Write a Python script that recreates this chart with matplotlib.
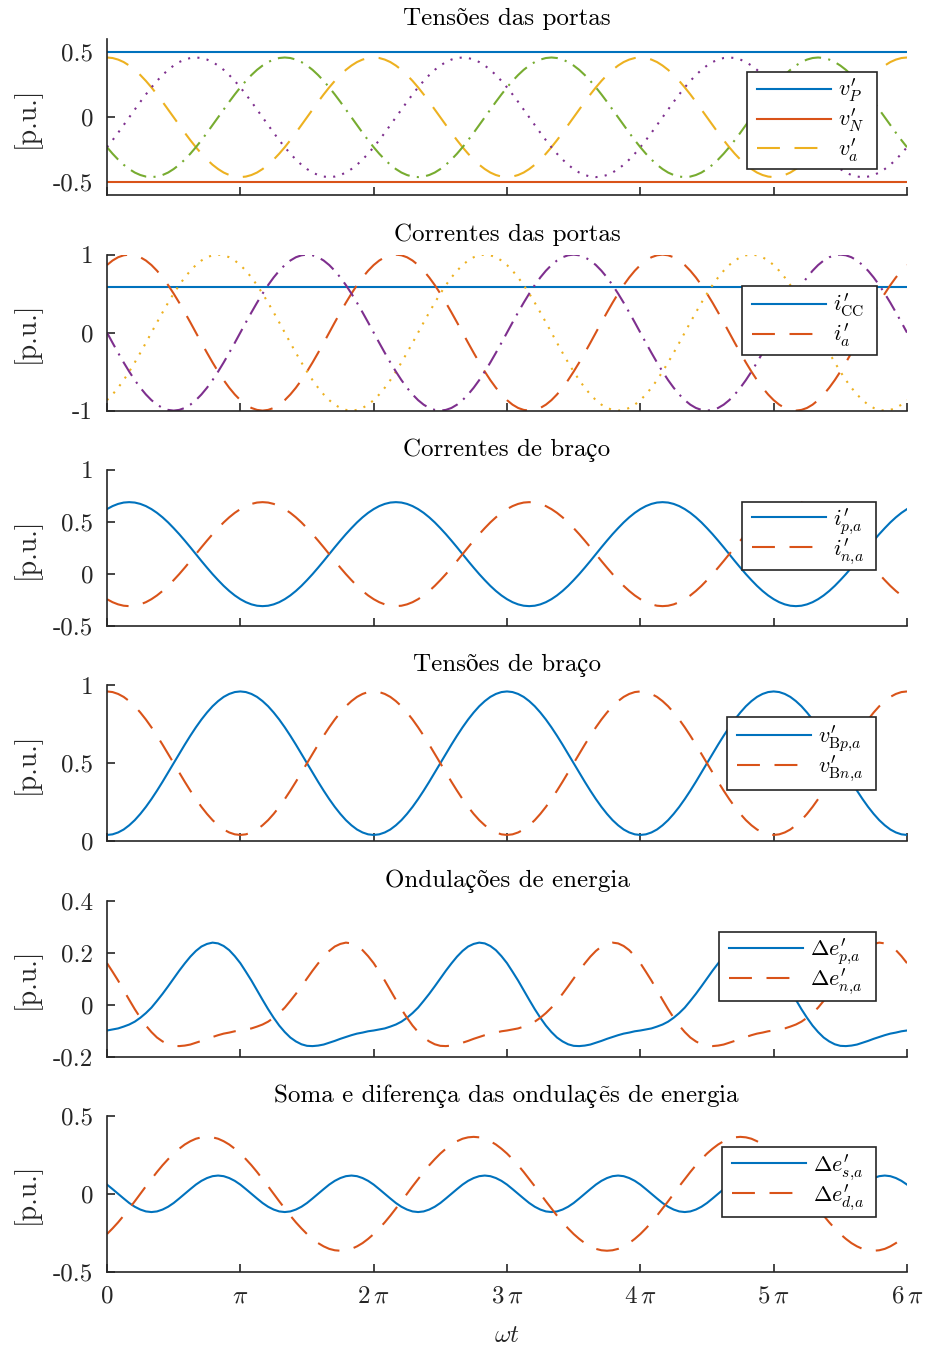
import numpy as np
import matplotlib
matplotlib.use("Agg")
import matplotlib.pyplot as plt
from matplotlib.patches import Rectangle

plt.rcParams['font.family'] = ['cmr10', 'STIXGeneral', 'DejaVu Serif']
plt.rcParams['mathtext.fontset'] = 'cm'
plt.rcParams['axes.unicode_minus'] = False

# ---------------- data (one period, samples every pi/24) --------------
n_periods = 3
samples_per_period = 48

# Tensões das portas
v_P = 0.5
v_N = -0.5
v_a = [0.46, 0.456, 0.444, 0.425, 0.398, 0.365, 0.325, 0.28, 0.23, 0.176, 0.119, 0.06,
       0, -0.06, -0.119, -0.176, -0.23, -0.28, -0.325, -0.365, -0.398, -0.425, -0.444, -0.456,
       -0.46, -0.456, -0.444, -0.425, -0.398, -0.365, -0.325, -0.28, -0.23, -0.176, -0.119, -0.06,
       0, 0.06, 0.119, 0.176, 0.23, 0.28, 0.325, 0.365, 0.398, 0.425, 0.444, 0.456]
v_b = [-0.23, -0.176, -0.119, -0.06, 0, 0.06, 0.119, 0.176, 0.23, 0.28, 0.325, 0.365,
       0.398, 0.425, 0.444, 0.456, 0.46, 0.456, 0.444, 0.425, 0.398, 0.365, 0.325, 0.28,
       0.23, 0.176, 0.119, 0.06, 0, -0.06, -0.119, -0.176, -0.23, -0.28, -0.325, -0.365,
       -0.398, -0.425, -0.444, -0.456, -0.46, -0.456, -0.444, -0.425, -0.398, -0.365, -0.325, -0.28]
v_c = [-0.23, -0.28, -0.325, -0.365, -0.398, -0.425, -0.444, -0.456, -0.46, -0.456, -0.444, -0.425,
       -0.398, -0.365, -0.325, -0.28, -0.23, -0.176, -0.119, -0.06, 0, 0.06, 0.119, 0.176,
       0.23, 0.28, 0.325, 0.365, 0.398, 0.425, 0.444, 0.456, 0.46, 0.456, 0.444, 0.425,
       0.398, 0.365, 0.325, 0.28, 0.23, 0.176, 0.119, 0.06, 0, -0.06, -0.119, -0.176]

# Correntes das portas
i_CC = 0.58
i_a = [0.866, 0.924, 0.966, 0.991, 1, 0.991, 0.966, 0.924, 0.866, 0.793, 0.707, 0.609,
       0.5, 0.383, 0.259, 0.131, 0, -0.131, -0.259, -0.383, -0.5, -0.609, -0.707, -0.793,
       -0.866, -0.924, -0.966, -0.991, -1, -0.991, -0.966, -0.924, -0.866, -0.793, -0.707, -0.609,
       -0.5, -0.383, -0.259, -0.131, 0, 0.131, 0.259, 0.383, 0.5, 0.609, 0.707, 0.793]
i_b = [-0.866, -0.793, -0.707, -0.609, -0.5, -0.383, -0.259, -0.131, 0, 0.131, 0.259, 0.383,
       0.5, 0.609, 0.707, 0.793, 0.866, 0.924, 0.966, 0.991, 1, 0.991, 0.966, 0.924,
       0.866, 0.793, 0.707, 0.609, 0.5, 0.383, 0.259, 0.131, 0, -0.131, -0.259, -0.383,
       -0.5, -0.609, -0.707, -0.793, -0.866, -0.924, -0.966, -0.991, -1, -0.991, -0.966, -0.924]
i_c = [0, -0.131, -0.259, -0.383, -0.5, -0.609, -0.707, -0.793, -0.866, -0.924, -0.966, -0.991,
       -1, -0.991, -0.966, -0.924, -0.866, -0.793, -0.707, -0.609, -0.5, -0.383, -0.259, -0.131,
       0, 0.131, 0.259, 0.383, 0.5, 0.609, 0.707, 0.793, 0.866, 0.924, 0.966, 0.991,
       1, 0.991, 0.966, 0.924, 0.866, 0.793, 0.707, 0.609, 0.5, 0.383, 0.259, 0.131]

# Correntes de braço
i_pa = [0.623, 0.652, 0.673, 0.686, 0.69, 0.686, 0.673, 0.652, 0.623, 0.587, 0.544, 0.495,
        0.44, 0.382, 0.32, 0.256, 0.19, 0.124, 0.06, -0.002, -0.06, -0.115, -0.164, -0.207,
        -0.243, -0.272, -0.293, -0.306, -0.31, -0.306, -0.293, -0.272, -0.243, -0.207, -0.164, -0.115,
        -0.06, -0.002, 0.06, 0.124, 0.19, 0.256, 0.32, 0.382, 0.44, 0.495, 0.544, 0.587]
i_na = [-0.243, -0.272, -0.293, -0.306, -0.31, -0.306, -0.293, -0.272, -0.243, -0.207, -0.164, -0.115,
        -0.06, -0.002, 0.06, 0.124, 0.19, 0.256, 0.32, 0.382, 0.44, 0.495, 0.544, 0.587,
        0.623, 0.652, 0.673, 0.686, 0.69, 0.686, 0.673, 0.652, 0.623, 0.587, 0.544, 0.495,
        0.44, 0.382, 0.32, 0.256, 0.19, 0.124, 0.06, -0.002, -0.06, -0.115, -0.164, -0.207]

# Tensões de braço
v_Bpa = [0.04, 0.044, 0.056, 0.075, 0.102, 0.135, 0.175, 0.22, 0.27, 0.324, 0.381, 0.44,
         0.5, 0.56, 0.619, 0.676, 0.73, 0.78, 0.825, 0.865, 0.898, 0.925, 0.944, 0.956,
         0.96, 0.956, 0.944, 0.925, 0.898, 0.865, 0.825, 0.78, 0.73, 0.676, 0.619, 0.56,
         0.5, 0.44, 0.381, 0.324, 0.27, 0.22, 0.175, 0.135, 0.102, 0.075, 0.056, 0.044]
v_Bna = [0.96, 0.956, 0.944, 0.925, 0.898, 0.865, 0.825, 0.78, 0.73, 0.676, 0.619, 0.56,
         0.5, 0.44, 0.381, 0.324, 0.27, 0.22, 0.175, 0.135, 0.102, 0.075, 0.056, 0.044,
         0.04, 0.044, 0.056, 0.075, 0.102, 0.135, 0.175, 0.22, 0.27, 0.324, 0.381, 0.44,
         0.5, 0.56, 0.619, 0.676, 0.73, 0.78, 0.825, 0.865, 0.898, 0.925, 0.944, 0.956]

# Ondulações de energia
de_pa = [-0.100, -0.096, -0.092, -0.085, -0.077, -0.066, -0.051, -0.033, -0.012, 0.014, 0.041, 0.070,
         0.100, 0.130, 0.158, 0.184, 0.206, 0.223, 0.233, 0.238, 0.235, 0.225, 0.209, 0.186,
         0.159, 0.126, 0.092, 0.055, 0.018, -0.018, -0.051, -0.081, -0.106, -0.127, -0.142, -0.153,
         -0.159, -0.160, -0.158, -0.154, -0.147, -0.140, -0.132, -0.125, -0.118, -0.112, -0.108, -0.103]
de_na = [0.159, 0.126, 0.092, 0.055, 0.018, -0.018, -0.051, -0.081, -0.106, -0.127, -0.142, -0.153,
         -0.159, -0.160, -0.158, -0.154, -0.147, -0.140, -0.132, -0.125, -0.118, -0.112, -0.108, -0.103,
         -0.100, -0.096, -0.092, -0.085, -0.077, -0.066, -0.051, -0.033, -0.012, 0.014, 0.041, 0.070,
         0.100, 0.130, 0.158, 0.184, 0.206, 0.223, 0.233, 0.238, 0.235, 0.225, 0.209, 0.186]

# Soma e diferença
de_sa = [0.059, 0.030, 0, -0.030, -0.059, -0.083, -0.101, -0.113, -0.117, -0.113, -0.101, -0.083,
         -0.059, -0.030, 0, 0.030, 0.059, 0.083, 0.101, 0.113, 0.117, 0.113, 0.101, 0.083,
         0.059, 0.030, 0, -0.030, -0.059, -0.083, -0.101, -0.113, -0.117, -0.113, -0.101, -0.083,
         -0.059, -0.030, 0, 0.030, 0.059, 0.083, 0.101, 0.113, 0.117, 0.113, 0.101, 0.083]
de_da = [-0.258, -0.222, -0.183, -0.14, -0.094, -0.048, 0, 0.048, 0.094, 0.14, 0.183, 0.222,
         0.258, 0.289, 0.316, 0.337, 0.353, 0.362, 0.365, 0.362, 0.353, 0.337, 0.316, 0.289,
         0.258, 0.222, 0.183, 0.14, 0.094, 0.048, 0, -0.048, -0.094, -0.14, -0.183, -0.222,
         -0.258, -0.289, -0.316, -0.337, -0.353, -0.362, -0.365, -0.362, -0.353, -0.337, -0.316, -0.289]

# titles; the last is split in two pieces so that "ẽ" can be drawn as a math accent
titles = [["Tensões das portas"], ["Correntes das portas"], ["Correntes de braço"],
          ["Tensões de braço"], ["Ondulações de energia"],
          ["Soma e diferença das ondulaç", r"$\tilde{\mathrm{e}}$s de energia"]]
ylims = [(-0.6, 0.6), (-1, 1), (-0.5, 1), (0, 1), (-0.2, 0.4), (-0.5, 0.5)]
yticks = [[-0.5, 0, 0.5], [-1, 0, 1], [-0.5, 0, 0.5, 1], [0, 0.5, 1],
          [-0.2, 0, 0.2, 0.4], [-0.5, 0, 0.5]]
yticklabels = [["-0.5", "0", "0.5"], ["-1", "0", "1"], ["-0.5", "0", "0.5", "1"],
               ["0", "0.5", "1"], ["-0.2", "0", "0.2", "0.4"], ["-0.5", "0", "0.5"]]
xtick_labels = [r'$0$', r'$\pi$', r'$2\,\pi$', r'$3\,\pi$', r'$4\,\pi$', r'$5\,\pi$', r'$6\,\pi$']

# ---------------- helpers ----------------
wt = np.arange(n_periods * samples_per_period + 1) * (2 * np.pi / samples_per_period)


def series(vals):
    v = np.asarray(vals, dtype=float)
    return np.concatenate([np.tile(v, n_periods), v[:1]])


def const(level):
    return np.full_like(wt, level)


BLUE = '#0072BD'
ORANGE = '#D95319'
YELLOW = '#EDB120'
PURPLE = '#7E2F8E'
GREEN = '#77AC30'
AX = '#262626'
LW = 1.5
DASH = (11, 7)
DOT = (1, 3.5)
DASHDOT = (8, 3.5, 1, 3.5)

W, H = 928, 1348
fig = plt.figure(figsize=(W / 100, H / 100), dpi=100)
renderer = fig.canvas.get_renderer()

ax_left, ax_w, ax_h = 107, 800, 156
tops = [39.3 + 215.3 * i for i in range(6)]
# legend boxes in pixels: left, top, right, bottom
leg_boxes = [(747, 71.7, 876.7, 169), (741.7, 286, 876.7, 355), (742, 502, 876, 570),
             (727.3, 716.7, 876, 790), (719.3, 932.3, 876, 1000.7), (722, 1147, 876, 1217)]
leg_spacing = [0.11, 0.12, 0.0, 0.0, 0.0, 0.0]

axes = []
for i in range(6):
    ax = fig.add_axes([ax_left / W, 1 - (tops[i] + ax_h) / H, ax_w / W, ax_h / H])
    axes.append(ax)

# Panel 1
ax = axes[0]
l1, = ax.plot(wt, const(v_P), color=BLUE, lw=LW)
l2, = ax.plot(wt, const(v_N), color=ORANGE, lw=LW)
l3, = ax.plot(wt, series(v_a), color=YELLOW, lw=LW, dashes=DASH)
ax.plot(wt, series(v_b), color=PURPLE, lw=LW, dashes=DOT)
ax.plot(wt, series(v_c), color=GREEN, lw=LW, dashes=DASHDOT)
leg_items = [([l1, l2, l3], [r"$v^{\prime}_{P}$", r"$v^{\prime}_{N}$", r"$v^{\prime}_{a}$"])]

# Panel 2
ax = axes[1]
l1, = ax.plot(wt, const(i_CC), color=BLUE, lw=LW)
l2, = ax.plot(wt, series(i_a), color=ORANGE, lw=LW, dashes=DASH)
ax.plot(wt, series(i_b), color=YELLOW, lw=LW, dashes=DOT)
ax.plot(wt, series(i_c), color=PURPLE, lw=LW, dashes=DASHDOT)
leg_items.append(([l1, l2], [r"$i^{\prime}_{\mathrm{CC}}$", r"$i^{\prime}_{a}$"]))

# Panel 3
ax = axes[2]
l1, = ax.plot(wt, series(i_pa), color=BLUE, lw=LW)
l2, = ax.plot(wt, series(i_na), color=ORANGE, lw=LW, dashes=DASH)
leg_items.append(([l1, l2], [r"$i^{\prime}_{p{,}a}$", r"$i^{\prime}_{n{,}a}$"]))

# Panel 4
ax = axes[3]
l1, = ax.plot(wt, series(v_Bpa), color=BLUE, lw=LW)
l2, = ax.plot(wt, series(v_Bna), color=ORANGE, lw=LW, dashes=DASH)
leg_items.append(([l1, l2], [r"$v^{\prime}_{\mathrm{B}p{,}a}$", r"$v^{\prime}_{\mathrm{B}n{,}a}$"]))

# Panel 5
ax = axes[4]
l1, = ax.plot(wt, series(de_pa), color=BLUE, lw=LW)
l2, = ax.plot(wt, series(de_na), color=ORANGE, lw=LW, dashes=DASH)
leg_items.append(([l1, l2], [r"$\Delta e^{\prime}_{p{,}a}$", r"$\Delta e^{\prime}_{n{,}a}$"]))

# Panel 6
ax = axes[5]
l1, = ax.plot(wt, series(de_sa), color=BLUE, lw=LW)
l2, = ax.plot(wt, series(de_da), color=ORANGE, lw=LW, dashes=DASH)
leg_items.append(([l1, l2], [r"$\Delta e^{\prime}_{s{,}a}$", r"$\Delta e^{\prime}_{d{,}a}$"]))

FS = 18
LFS = 16
TITLE_PAD_PX = 10 * 100 / 72
for i, ax in enumerate(axes):
    ax.set_xlim(0, 6 * np.pi)
    ax.set_ylim(*ylims[i])
    ax.set_yticks(yticks[i])
    ax.set_yticklabels(yticklabels[i])
    ax.set_xticks(np.arange(7) * np.pi)
    if i == 5:
        ax.set_xticklabels(xtick_labels)
        ax.set_xlabel(r'$\omega t$', fontsize=FS, color=AX, labelpad=12)
    else:
        ax.set_xticklabels([])
    for s in ['top', 'right']:
        ax.spines[s].set_visible(False)
    for s in ['left', 'bottom']:
        ax.spines[s].set_color(AX)
        ax.spines[s].set_linewidth(1.2)
    ax.tick_params(direction='in', length=6, width=1.2, colors=AX, labelsize=FS, pad=10)

    # title (pieces laid side by side on a common baseline, centred over the axes)
    pieces = titles[i]
    ybase = 1 - (tops[i] - TITLE_PAD_PX) / H
    txts = [fig.text(0, ybase, p, fontsize=FS, color='k', ha='left', va='baseline')
            for p in pieces]
    widths = [t.get_window_extent(renderer).width for t in txts]
    x = ax_left + ax_w / 2 - sum(widths) / 2
    for t, w in zip(txts, widths):
        t.set_x(x / W)
        x += w

    ax.set_ylabel('[p.u.]', fontsize=20, color=AX)
    ax.yaxis.set_label_coords(-0.083, 0.5)

    # legend frame + content
    bl, bt, br, bb = leg_boxes[i]
    fig.add_artist(Rectangle((bl / W, 1 - bb / H), (br - bl) / W, (bb - bt) / H,
                             transform=fig.transFigure, facecolor='white',
                             edgecolor=AX, lw=1.2, zorder=2))
    handles, labels = leg_items[i]
    fig.legend(handles, labels, loc='center left',
               bbox_to_anchor=((bl + 10) / W, 1 - (bt + bb) / 2 / H),
               bbox_transform=fig.transFigure, borderaxespad=0, borderpad=0,
               fontsize=LFS, handlelength=3.33, handletextpad=0.32,
               labelspacing=leg_spacing[i], frameon=False)

fig.savefig('out.png', dpi=100)
